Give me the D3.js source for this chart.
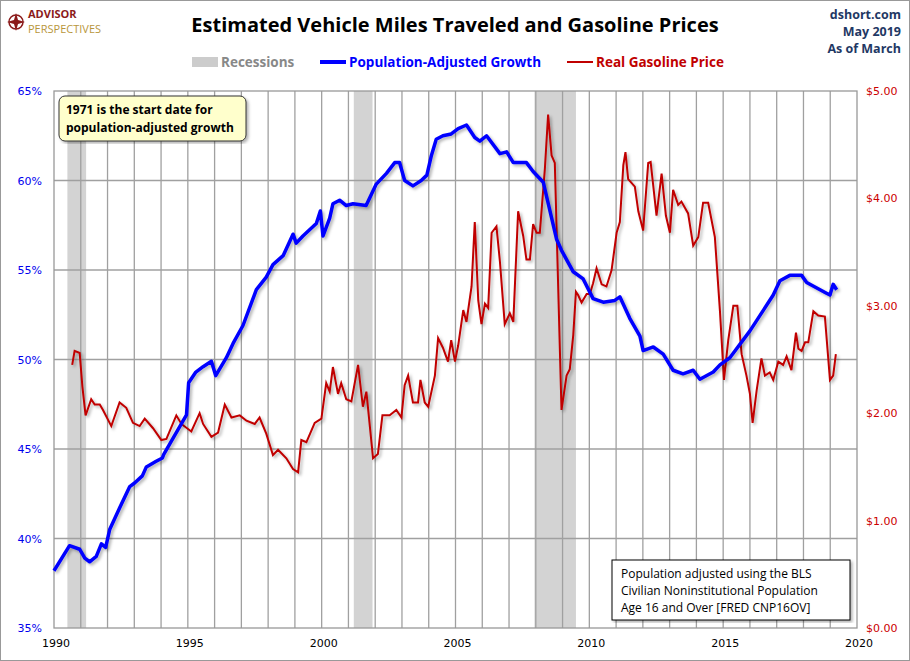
<!DOCTYPE html>
<html><head><meta charset="utf-8">
<script src="https://cdn.jsdelivr.net/npm/d3@7"></script>
<style>body{margin:0;background:#fff}svg{display:block}</style>
</head><body><svg width="910" height="661"></svg>
<script>
// [year, percent]
var vmtGrowth = [[1990.0,38.2],[1990.58,39.6],[1990.96,39.4],[1991.15,38.9],[1991.33,38.7],[1991.58,39.0],[1991.77,39.7],[1991.93,39.5],[1992.08,40.5],[1992.45,41.7],[1992.83,42.9],[1993.01,43.1],[1993.3,43.5],[1993.45,44.0],[1993.8,44.3],[1994.05,44.5],[1994.1,44.7],[1994.95,46.9],[1995.03,48.7],[1995.3,49.3],[1995.57,49.6],[1995.88,49.9],[1996.04,49.1],[1996.44,50.1],[1996.69,50.9],[1997.06,51.9],[1997.56,53.9],[1997.93,54.6],[1998.18,55.3],[1998.56,55.8],[1998.93,57.0],[1999.05,56.5],[1999.3,56.9],[1999.8,57.6],[1999.95,58.3],[2000.05,56.9],[2000.3,57.9],[2000.42,58.7],[2000.67,58.9],[2000.92,58.6],[2001.17,58.7],[2001.66,58.6],[2002.04,59.8],[2002.42,60.4],[2002.73,61.0],[2002.91,61.0],[2003.1,60.0],[2003.41,59.7],[2003.72,60.0],[2003.93,60.3],[2004.1,61.4],[2004.28,62.3],[2004.53,62.5],[2004.84,62.6],[2005.1,62.9],[2005.41,63.1],[2005.72,62.4],[2005.91,62.2],[2006.16,62.5],[2006.66,61.5],[2006.91,61.6],[2007.16,61.0],[2007.65,61.0],[2007.9,60.5],[2008.28,59.9],[2008.78,56.7],[2008.96,56.1],[2009.4,54.9],[2009.77,54.5],[2010.14,53.4],[2010.52,53.2],[2010.95,53.3],[2011.14,53.5],[2011.51,52.3],[2011.89,51.3],[2012.01,50.5],[2012.39,50.7],[2012.76,50.3],[2013.13,49.4],[2013.5,49.2],[2013.88,49.4],[2014.13,48.9],[2014.63,49.3],[2014.88,49.7],[2015.25,50.1],[2016.0,51.6],[2016.87,53.6],[2017.12,54.4],[2017.49,54.7],[2017.93,54.7],[2018.12,54.3],[2018.86,53.7],[2018.99,53.6],[2019.11,54.2],[2019.24,53.9]];
// [year, dollars]
var gasPrice = [[1990.68,2.45],[1990.77,2.58],[1990.96,2.56],[1991.06,2.25],[1991.18,1.98],[1991.39,2.13],[1991.52,2.08],[1991.71,2.08],[1991.83,2.03],[1992.14,1.88],[1992.45,2.10],[1992.7,2.05],[1992.95,1.91],[1993.2,1.88],[1993.39,1.95],[1993.7,1.86],[1994.01,1.75],[1994.2,1.76],[1994.57,1.98],[1994.76,1.90],[1995.13,1.83],[1995.44,2.00],[1995.57,1.90],[1995.88,1.78],[1996.13,1.82],[1996.38,2.08],[1996.63,1.96],[1996.94,1.98],[1997.19,1.93],[1997.5,1.90],[1997.68,1.96],[1997.93,1.81],[1998.18,1.61],[1998.37,1.66],[1998.68,1.58],[1998.93,1.48],[1999.12,1.45],[1999.24,1.75],[1999.43,1.73],[1999.74,1.91],[1999.99,1.95],[2000.17,2.28],[2000.3,2.20],[2000.42,2.43],[2000.61,2.18],[2000.73,2.28],[2000.92,2.13],[2001.11,2.11],[2001.36,2.45],[2001.54,2.06],[2001.67,2.20],[2001.92,1.58],[2002.1,1.62],[2002.27,1.98],[2002.54,1.98],[2002.79,2.03],[2002.98,1.96],[2003.1,2.26],[2003.23,2.35],[2003.41,2.10],[2003.6,2.10],[2003.69,2.31],[2003.85,2.10],[2003.98,2.06],[2004.23,2.35],[2004.35,2.70],[2004.53,2.61],[2004.72,2.48],[2004.84,2.68],[2004.98,2.48],[2005.1,2.63],[2005.29,2.96],[2005.41,2.85],[2005.6,3.18],[2005.72,3.78],[2005.85,3.05],[2005.97,2.83],[2006.1,3.02],[2006.22,2.98],[2006.35,3.68],[2006.53,3.74],[2006.66,3.41],[2006.84,2.83],[2007.03,2.93],[2007.16,2.85],[2007.34,3.88],[2007.53,3.65],[2007.65,3.43],[2007.78,3.43],[2007.9,3.76],[2008.03,3.68],[2008.15,3.68],[2008.34,4.28],[2008.46,4.78],[2008.59,4.40],[2008.71,4.33],[2008.8,3.51],[2008.96,2.03],[2009.15,2.35],[2009.27,2.41],[2009.4,2.73],[2009.5,3.13],[2009.58,3.10],[2009.71,3.03],[2009.9,3.11],[2010.02,3.11],[2010.14,3.21],[2010.27,3.35],[2010.46,3.20],[2010.64,3.18],[2010.83,3.33],[2011.02,3.68],[2011.14,3.78],[2011.27,4.31],[2011.35,4.43],[2011.45,4.18],[2011.7,4.11],[2011.83,3.88],[2012.01,3.70],[2012.2,4.33],[2012.29,4.34],[2012.51,3.84],[2012.7,4.23],[2012.86,3.84],[2013.01,3.68],[2013.13,4.08],[2013.32,3.94],[2013.44,3.97],[2013.69,3.86],[2013.88,3.56],[2014.07,3.64],[2014.25,3.96],[2014.44,3.96],[2014.69,3.64],[2014.88,2.95],[2015.03,2.31],[2015.19,2.68],[2015.38,3.00],[2015.53,3.00],[2015.69,2.55],[2015.87,2.35],[2016.0,2.18],[2016.1,1.91],[2016.25,2.21],[2016.43,2.51],[2016.56,2.35],[2016.74,2.38],[2016.87,2.31],[2017.06,2.48],[2017.24,2.45],[2017.37,2.53],[2017.55,2.40],[2017.72,2.75],[2017.81,2.60],[2017.93,2.58],[2018.06,2.66],[2018.18,2.66],[2018.37,2.95],[2018.55,2.91],[2018.8,2.90],[2018.99,2.31],[2019.11,2.35],[2019.21,2.55]];
var recessions = [[1990.5,1991.2],[2001.2,2001.9],[2007.95,2009.5]];
var xTicks = [1990,1995,2000,2005,2010,2015,2020];
var leftTicks = [35,40,45,50,55,60,65];
var rightTicks = [0,1,2,3,4,5];

var svg = d3.select("svg");
var L = 54, R = 857, T = 91, B = 628;
var x = d3.scaleLinear().domain([1990,2020]).range([L,R]);
var yL = d3.scaleLinear().domain([35,65]).range([B,T]);
var yR = d3.scaleLinear().domain([0,5]).range([B,T]);

var defs = svg.append("defs");
var f = defs.append("filter").attr("id","sh").attr("x","-5%").attr("y","-5%").attr("width","110%").attr("height","110%");
f.append("feDropShadow").attr("dx",2).attr("dy",2).attr("stdDeviation",1.5).attr("flood-color","#000").attr("flood-opacity",0.3);

svg.append("rect").attr("x",0.5).attr("y",0.5).attr("width",909).attr("height",660).attr("fill","#fff").attr("stroke","#999");

svg.selectAll("rect.rec").data(recessions).enter().append("rect")
  .attr("x",d=>x(d[0])).attr("width",d=>x(d[1])-x(d[0])).attr("y",T).attr("height",B-T).attr("fill","#d3d3d3");

var g = svg.append("g").attr("stroke","#a0a0a0").attr("stroke-width",1.3);
g.selectAll("line.v").data(d3.range(1991,2020)).enter().append("line")
  .attr("x1",d=>x(d)).attr("x2",d=>x(d)).attr("y1",T).attr("y2",B);
g.selectAll("line.h").data(leftTicks.slice(1,6)).enter().append("line")
  .attr("x1",L).attr("x2",R).attr("y1",d=>yL(d)).attr("y2",d=>yL(d));
svg.append("rect").attr("x",L).attr("y",T).attr("width",R-L).attr("height",B-T).attr("fill","none").attr("stroke","#999").attr("stroke-width",1.3);

var font = "Verdana, 'DejaVu Sans', sans-serif";
svg.selectAll("text.yl").data(leftTicks).enter().append("text")
  .attr("x",42).attr("y",d=>yL(d)+4).attr("text-anchor","end").attr("fill","#0000ee")
  .style("font",`11px ${font}`).text(d=>d+"%");
svg.selectAll("text.yr").data(rightTicks).enter().append("text")
  .attr("x",866).attr("y",d=>yR(d)+4).attr("fill","#cc0000")
  .style("font",`11px ${font}`).text(d=>"$"+d.toFixed(2));
svg.selectAll("text.xt").data(xTicks).enter().append("text")
  .attr("x",d=>x(d)+2).attr("y",647).attr("text-anchor","middle").attr("fill","#000")
  .style("font",`11px ${font}`).text(d=>d);

var line = (ys) => d3.line().x(d=>x(d[0])).y(d=>ys(d[1]));
svg.append("path").datum(gasPrice).attr("d",line(yR)).attr("fill","none").attr("stroke","#c00000").attr("stroke-width",2).attr("filter","url(#sh)");
svg.append("path").datum(vmtGrowth).attr("d",line(yL)).attr("fill","none").attr("stroke","#0000ff").attr("stroke-width",3.5).attr("stroke-linejoin","round").attr("filter","url(#sh)");

// annotation boxes
var cal = "'Open Sans', 'Liberation Sans', sans-serif";
svg.append("rect").attr("x",59).attr("y",96).attr("width",187).attr("height",45).attr("rx",6)
  .attr("fill","#ffffcc").attr("stroke","#333").attr("filter","url(#sh)");
svg.append("text").attr("x",66).attr("y",114).style("font",`bold 12px ${cal}`).text("1971  is the start date for");
svg.append("text").attr("x",66).attr("y",132).style("font",`bold 12px ${cal}`).text("population-adjusted growth");
svg.append("rect").attr("x",612).attr("y",560).attr("width",238).attr("height",60)
  .attr("fill","#fff").attr("stroke","#000").attr("filter","url(#sh)");
["Population adjusted using the BLS","Civilian Noninstitutional Population","Age 16 and Over  [FRED CNP16OV]"].forEach(function(t,i){
  svg.append("text").attr("x",621).attr("y",578+i*17).style("font",`12px ${cal}`).text(t);
});

// header
var narrow = "'Liberation Sans Narrow', 'Open Sans', sans-serif";
svg.append("text").attr("x",455).attr("y",32).attr("text-anchor","middle")
  .style("font",`bold 20px ${narrow}`).text("Estimated Vehicle Miles Traveled and Gasoline Prices");
["dshort.com","May 2019","As of March"].forEach(function(t,i){
  svg.append("text").attr("x",901).attr("y",19+i*17).attr("text-anchor","end").attr("fill","#1f3864")
    .style("font",`bold 12.5px ${cal}`).text(t);
});
// legend: label, swatch colour, text colour, swatch x, swatch height, text x
var lg = [["Recessions","#cccccc","#888",192,10,221],["Population-Adjusted Growth","#0000ff","#0000ff",320,4,349],["Real Gasoline Price","#c00000","#c00000",567,2,596]];
lg.forEach(function(d){
  svg.append("rect").attr("x",d[3]).attr("y",62-d[4]/2).attr("width",26).attr("height",d[4]).attr("fill",d[1]);
  svg.append("text").attr("x",d[5]).attr("y",67).attr("fill",d[2])
    .style("font",`bold 13.5px ${narrow}`).text(d[0]);
});
// logo
var lgG = svg.append("g").attr("transform","translate(16,22)");
lgG.append("circle").attr("r",7).attr("fill","none").attr("stroke","#8b1a1a").attr("stroke-width",1.5);
lgG.append("path").attr("d","M0,-9L2,-2L9,0L2,2L0,9L-2,2L-9,0L-2,-2Z").attr("fill","#8b1a1a");
svg.append("text").attr("x",28).attr("y",18).attr("fill","#8b1a1a").style("font",`bold 11px ${narrow}`).text("ADVISOR");
svg.append("text").attr("x",28).attr("y",33).attr("fill","#b8963c").style("font",`11px ${narrow}`).text("PERSPECTIVES");
</script></body></html>
